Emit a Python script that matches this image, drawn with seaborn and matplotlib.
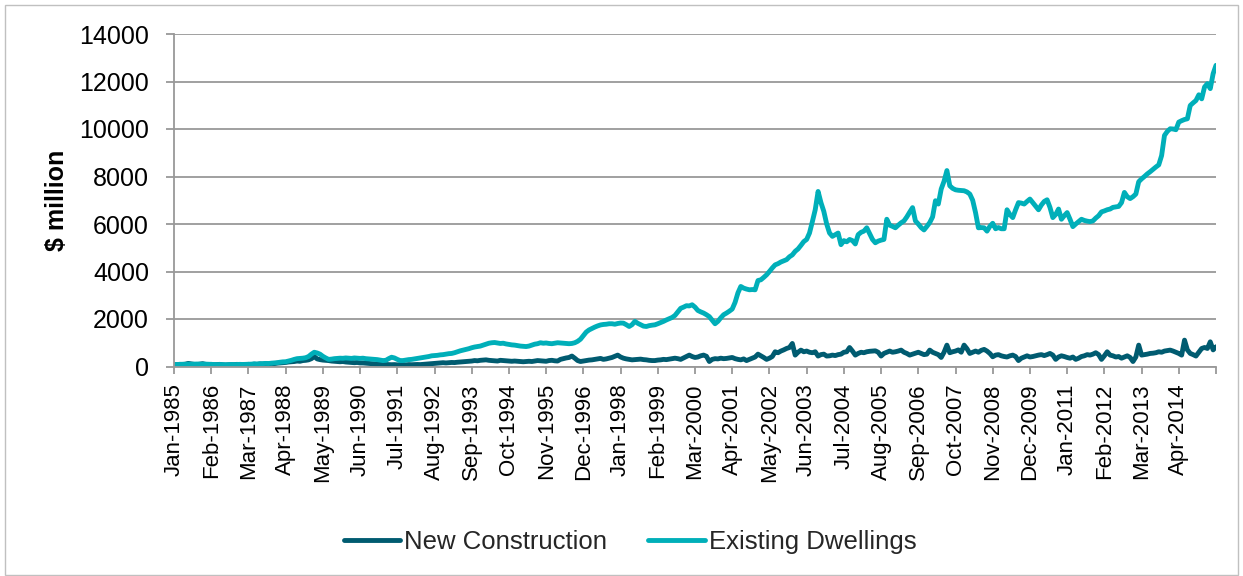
import matplotlib
matplotlib.use("Agg")
import matplotlib.pyplot as plt
import numpy as np
import pandas as pd
import seaborn as sns
from matplotlib.patches import Rectangle

# monthly values, $ million, Jan-1985 .. May-2015 (one row per year)
new_construction = [
    70, 80, 90, 85, 100, 130, 110, 90, 80, 100, 120, 90,
    80, 90, 70, 80, 90, 70, 60, 70, 80, 75, 90, 80,
    70, 80, 90, 80, 100, 90, 110, 100, 120, 110, 130, 120,
    140, 150, 160, 170, 190, 200, 210, 230, 220, 250, 260, 280,
    330, 420, 320, 290, 270, 260, 250, 230, 220, 210, 200, 210,
    190, 180, 170, 160, 170, 150, 150, 140, 130, 120, 110, 100,
    100, 90, 85, 80, 75, 80, 70, 75, 80, 70, 80, 75,
    80, 85, 80, 90, 100, 110, 120, 130, 140, 150, 160, 150,
    160, 170, 165, 180, 190, 200, 210, 220, 230, 250, 240, 260,
    270, 280, 260, 250, 240, 230, 260, 250, 240, 230, 220, 230,
    220, 210, 200, 210, 220, 210, 230, 250, 240, 230, 220, 250,
    260, 240, 230, 300, 330, 360, 380, 440, 350, 250, 210, 230,
    250, 270, 280, 300, 320, 340, 300, 320, 350, 380, 430, 480,
    400, 350, 320, 300, 280, 290, 300, 310, 290, 280, 260, 250,
    250, 270, 280, 300, 290, 310, 330, 350, 330, 300, 360, 420,
    480, 420, 380, 400, 450, 480, 430, 210, 300, 330, 320, 350,
    330, 340, 360, 380, 330, 300, 280, 320, 250, 300, 350, 400,
    520, 450, 380, 300, 350, 420, 620, 580, 650, 700, 760, 800,
    970, 480, 600, 690, 620, 650, 600, 580, 620, 440, 500, 520,
    440, 450, 480, 460, 500, 520, 600, 620, 800, 650, 480, 550,
    600, 580, 620, 640, 650, 660, 600, 440, 550, 600, 650, 600,
    620, 650, 690, 600, 550, 480, 520, 560, 600, 550, 500, 520,
    690, 600, 550, 500, 380, 600, 900, 580, 620, 650, 700, 600,
    900, 750, 550, 600, 650, 600, 680, 720, 650, 550, 410, 480,
    500, 450, 420, 400, 450, 480, 420, 250, 350, 400, 450, 400,
    420, 450, 480, 500, 460, 500, 550, 480, 300, 400, 450, 420,
    380, 350, 400, 300, 350, 420, 450, 500, 480, 520, 580, 500,
    300, 450, 620, 480, 450, 400, 420, 350, 400, 450, 380, 210,
    400, 900, 480, 500, 520, 550, 560, 580, 620, 600, 650, 670,
    690, 650, 600, 550, 480, 1110, 700, 550, 500, 440, 600, 760,
    800, 760, 1040, 700, 830,
]

existing_dwellings = [
    80, 85, 90, 95, 90, 100, 95, 100, 105, 100, 95, 100,
    95, 90, 85, 80, 85, 80, 75, 80, 85, 80, 85, 90,
    85, 90, 95, 100, 110, 105, 115, 120, 130, 125, 140, 150,
    160, 180, 195, 200, 230, 260, 300, 330, 340, 350, 370, 420,
    520, 600, 570, 520, 430, 360, 300, 310, 330, 340, 350, 345,
    360, 350, 340, 360, 350, 340, 350, 330, 320, 310, 300, 290,
    270, 250, 260, 330, 390, 360, 300, 250, 250, 270, 290, 300,
    320, 340, 360, 380, 400, 420, 450, 460, 470, 490, 500, 520,
    540, 550, 580, 620, 660, 690, 720, 750, 790, 820, 840, 860,
    900, 940, 980, 1000, 1010, 990, 970, 980, 950, 930, 910, 900,
    880, 860, 850, 840, 860, 900, 940, 960, 1000, 980, 990, 970,
    960, 980, 1000, 990, 980, 970, 960, 970, 1000, 1060, 1150, 1300,
    1450, 1540, 1600, 1660, 1710, 1750, 1770, 1780, 1800, 1800, 1780, 1810,
    1830, 1825, 1760, 1685, 1760, 1900, 1820, 1760, 1700, 1685, 1720, 1740,
    1755, 1800, 1850, 1900, 1960, 2010, 2065, 2150, 2300, 2450, 2500, 2560,
    2550, 2600, 2500, 2360, 2300, 2250, 2180, 2100, 1950, 1800, 1900, 2050,
    2180, 2250, 2330, 2420, 2700, 3100, 3370, 3300, 3260, 3230, 3240, 3230,
    3620, 3650, 3750, 3860, 4000, 4150, 4280, 4330, 4400, 4450, 4500, 4620,
    4700, 4850, 4950, 5100, 5260, 5350, 5620, 6100, 6600, 7370, 6900, 6530,
    6000, 5620, 5480, 5550, 5620, 5130, 5300, 5250, 5350, 5300, 5160, 5550,
    5650, 5700, 5840, 5600, 5350, 5210, 5280, 5320, 5350, 6200, 5950, 5900,
    5840, 5950, 6050, 6130, 6300, 6500, 6690, 6130, 6000, 5850, 5750, 5900,
    6060, 6300, 6980, 6840, 7470, 7800, 8250, 7610, 7500, 7440, 7420, 7410,
    7400, 7350, 7260, 7000, 6480, 5840, 5850, 5840, 5700, 5900, 6030, 5800,
    5850, 5800, 5800, 6600, 6400, 6270, 6600, 6900, 6880, 6840, 6950, 7050,
    6900, 6750, 6600, 6800, 6950, 7020, 6700, 6270, 6400, 6630, 6200, 6350,
    6480, 6200, 5890, 6000, 6100, 6200, 6150, 6120, 6100, 6130, 6250, 6350,
    6510, 6550, 6600, 6630, 6700, 6720, 6740, 6900, 7330, 7150, 7070, 7150,
    7260, 7780, 7900, 8000, 8110, 8200, 8300, 8400, 8490, 8880, 9730, 9900,
    10010, 10000, 9970, 10290, 10350, 10400, 10430, 10990, 11100, 11200, 11440, 11270,
    11770, 11910, 11700, 12330, 12680,
]

months = pd.date_range("1985-01-01", periods=len(existing_dwellings), freq="MS")
tick_step = 13

df = pd.concat([
    pd.DataFrame({"idx": np.arange(len(months)), "value": new_construction,
                  "series": "New Construction"}),
    pd.DataFrame({"idx": np.arange(len(months)), "value": existing_dwellings,
                  "series": "Existing Dwellings"}),
])

sns.set_theme(style="white")
plt.rcParams["font.family"] = ["Liberation Sans", "DejaVu Sans"]

fig = plt.figure(figsize=(12.43, 5.76), dpi=100)
ax = fig.add_axes([174 / 1243, 1 - 366.5 / 576, (1216 - 174) / 1243, (366.5 - 34) / 576])

palette = {"New Construction": "#005b70", "Existing Dwellings": "#00afb9"}
sns.lineplot(data=df, x="idx", y="value", hue="series", palette=palette,
             linewidth=3.5, ax=ax, legend=True)
for line in ax.lines:
    line.set_solid_capstyle("round")
    line.set_solid_joinstyle("round")

grid_c = "#999999"
ax.set_xlim(0, 364)
ax.set_ylim(0, 14000)
ax.set_yticks(range(0, 14001, 2000))
ax.yaxis.grid(True, color=grid_c, linewidth=1.3)
ax.set_axisbelow(True)

# Excel-style category axis: a tick every 13 months, last tick at the axis end
ticks = list(range(0, 365, tick_step))
labels = [months[t].strftime("%b-%Y") if t + tick_step <= len(months) else "" for t in ticks]
ax.set_xticks(ticks)
ax.set_xticklabels(labels, rotation=90)

for side in ["top", "right"]:
    ax.spines[side].set_visible(False)
for side in ["left", "bottom"]:
    ax.spines[side].set_color(grid_c)
    ax.spines[side].set_linewidth(1.3)

ax.tick_params(axis="y", which="major", left=True, length=6, width=1.3,
               color=grid_c, pad=12, labelsize=18, labelcolor="black")
ax.tick_params(axis="x", which="major", bottom=True, length=5, width=1.3,
               color=grid_c, pad=7, labelsize=16, labelcolor="black")

ax.set_xlabel("")
ax.set_ylabel("$ million", fontsize=18, fontweight="bold", color="black")
ax.yaxis.set_label_coords((56.5 - 174) / 1042, (366.5 - 200.5) / 332.5)
ax.yaxis.label.set_verticalalignment("center")

handles, lbls = ax.get_legend_handles_labels()
ax.legend(handles, lbls, loc="center", bbox_to_anchor=(630 / 1243, 1 - 542 / 576),
          bbox_transform=fig.transFigure, ncol=2, frameon=False, fontsize=18.5,
          handlelength=2.2, handletextpad=0.15, columnspacing=1.6)

fig.patches.append(Rectangle((5 / 1243, 0.002), 1 - 10 / 1243, 1 - 5 / 576 - 0.002,
                             transform=fig.transFigure, fill=False,
                             edgecolor="#c0c0c0", linewidth=1.0))

fig.savefig("out.png", dpi=100)
plt.close(fig)
